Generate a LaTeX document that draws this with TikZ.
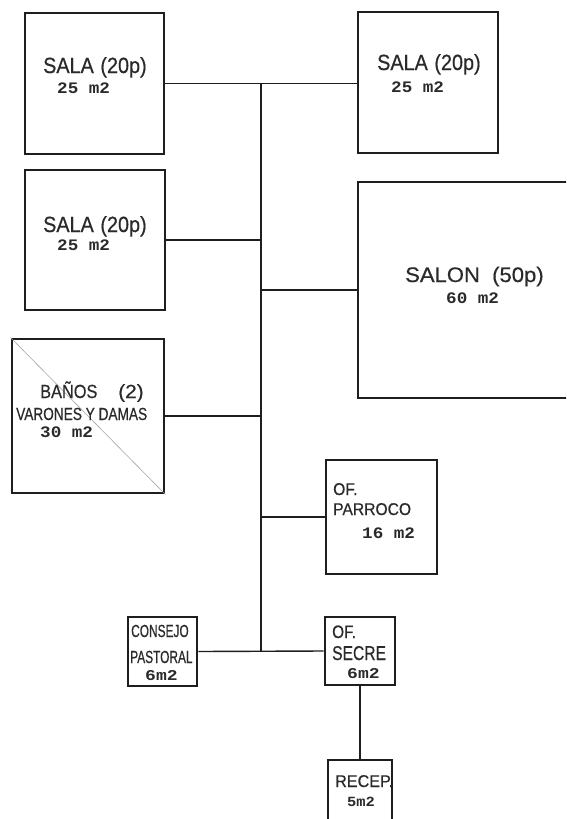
\documentclass[tikz,border=0pt]{standalone}
\usepackage{fontspec}
\setmainfont{Liberation Sans}
\newfontfamily\labfont{Liberation Sans}[FakeBold=0.5]
\newfontfamily\areafont{Liberation Mono Bold}
\definecolor{ink}{HTML}{1E1E1E}
\definecolor{txt}{HTML}{2A2A2A}
\newcommand\lbl[3]{{\labfont\fontsize{#1}{#1}\selectfont\scalebox{#2}[1]{#3}}}
\newcommand\area[3]{{\areafont\fontsize{#1}{#1}\selectfont\scalebox{#2}[1]{#3}}}
\begin{document}
\begin{tikzpicture}[x=1pt,y=-1pt,
  room/.style={draw=ink,line width=2.8pt,inner sep=0pt,fill=white},
  link/.style={draw=ink,line width=1.4pt},
  lab/.style={anchor=base west,inner sep=0pt,text=txt}]
\useasboundingbox (0,0) rectangle (566,819);
\clip (0,0) rectangle (566,819);
\fill[white] (0,0) rectangle (566,819);
% rooms
\node[room,minimum width=139pt,minimum height=141pt] (s1) at (94.5,83.5) {};
\node[room,minimum width=140pt,minimum height=141pt] (s2) at (428,82.5) {};
\node[room,minimum width=140pt,minimum height=140pt] (s3) at (95,240) {};
\node[room,minimum width=242pt,minimum height=216pt] (salon) at (479,290) {};
\node[room,minimum width=152pt,minimum height=154pt] (banos) at (88,416) {};
\node[room,minimum width=111pt,minimum height=114pt] (parroco) at (381.5,517) {};
\node[room,minimum width=69pt,minimum height=69pt] (consejo) at (162.5,651.5) {};
\node[room,minimum width=70pt,minimum height=68pt] (secre) at (360,651) {};
\node[room,minimum width=64pt,minimum height=80pt] (recep) at (360,800) {};
\draw[gray!70,line width=0.6pt] (banos.north west) -- (banos.south east);
% spine
\coordinate (vtop) at (261,83);
\coordinate (vbot) at (261,651.5);
\draw[link] (vtop) -- (vbot);
\draw[link] (s1.east) -- (s1.east -| s2.west);
\draw[link] (s3.east) -- (s3.east -| vtop);
\draw[link] (salon.west) -- (salon.west -| vtop);
\draw[link] (banos.east) -- (banos.east -| vtop);
\draw[link] (parroco.west) -- (parroco.west -| vtop);
\draw[link] (consejo.east) -- (secre.west);
\draw[link] (secre.south) -- (recep.north);
% labels
\node[lab] (t1) at (43,73) {\lbl{22}{0.9}{SALA\,\,(20p)}};
\node[lab] (a1) at (57,93) {\area{16}{1.1}{25 m2}};
\node[lab] (t2) at (377,70) {\lbl{22}{0.9}{SALA\,\,(20p)}};
\node[lab] (a2) at (391,92) {\area{16}{1.1}{25 m2}};
\node[lab] (t3) at (43,232) {\lbl{22}{0.9}{SALA\,\,(20p)}};
\node[lab] (a3) at (57,250) {\area{16}{1.1}{25 m2}};
\node[lab] (t4) at (405,282) {\lbl{21}{1.05}{SALON\ \ (50p)}};
\node[lab] (a4) at (446,303) {\area{16}{1.1}{60 m2}};
\node[lab] (t5) at (40,398) {\lbl{19}{0.86}{BAÑOS}};
\node[lab] (t5b) at (118,398) {\lbl{19}{1.1}{(2)}};
\node[lab] (t5c) at (16,420) {\lbl{17.5}{0.78}{VARONES Y DAMAS}};
\node[lab] (a5) at (40,437) {\area{16}{1.1}{30 m2}};
\node[lab] (t6) at (333,495) {\lbl{17}{0.92}{OF.}};
\node[lab] (t6b) at (333,515) {\lbl{17}{0.92}{PARROCO}};
\node[lab] (a6) at (362,538) {\area{16}{1.1}{16 m2}};
\node[lab] (t7) at (131,637) {\lbl{17.5}{0.68}{CONSEJO}};
\node[lab] (t7b) at (130,663) {\lbl{17.5}{0.68}{PASTORAL}};
\node[lab] (a7) at (145,680) {\area{15}{1.2}{6m2}};
\node[lab] (t8) at (332,638) {\lbl{18}{0.85}{OF.}};
\node[lab] (t8b) at (332,660) {\lbl{20}{0.78}{SECRE}};
\node[lab] (a8) at (347,678) {\area{15}{1.2}{6m2}};
\node[lab] (t9) at (335,787) {\lbl{17}{0.95}{RECEP.}};
\node[lab] (a9) at (347,806) {\area{14}{1.1}{5m2}};
\end{tikzpicture}
\end{document}
